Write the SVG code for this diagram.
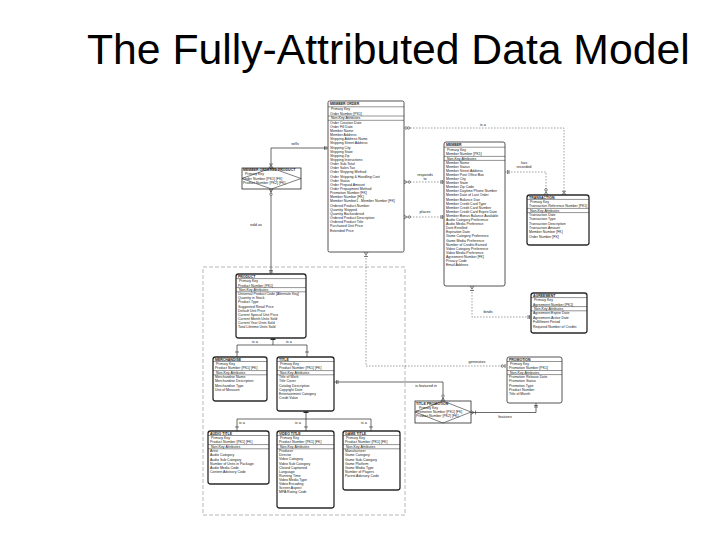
<svg xmlns="http://www.w3.org/2000/svg" width="720" height="540" viewBox="0 0 720 540">
<style>
.ttl{font-family:"Liberation Sans",Arial,sans-serif;font-size:42.7px;fill:#000}
.t{font-family:"Liberation Sans",Arial,sans-serif;font-size:3.5px;fill:#1a1a1a}
.nm{font-weight:bold}
.lb{font-family:"Liberation Sans",Arial,sans-serif;font-size:3.8px;fill:#1a1a1a;text-anchor:middle}
.bx{fill:#fff;stroke:#2a2a2a;stroke-width:0.8}
.bx2{fill:#fff;stroke:#2a2a2a;stroke-width:1.3}
.sp{stroke:#2a2a2a;stroke-width:0.5}
.dg{fill:none;stroke:#2a2a2a;stroke-width:0.6}
.dl{fill:none;stroke:#666;stroke-width:0.6;stroke-dasharray:1.6 1.4}
.grp{fill:none;stroke:#9a9a9a;stroke-width:0.7;stroke-dasharray:4 2}
.sl{fill:none;stroke:#2a2a2a;stroke-width:0.7}
.mk{fill:none;stroke:#2a2a2a;stroke-width:0.6}
.ci{fill:#fff;stroke:#2a2a2a;stroke-width:0.6}
</style>
<rect width="720" height="540" fill="#fff"/>
<text class="ttl" x="87" y="64">The Fully-Attributed Data Model</text>

<rect class="grp" x="203" y="267" width="202" height="248"/>

<g id="connectors">
  <!-- sells -->
  <path class="sl" d="M271,168 V148 H328"/>
  <path class="mk" d="M324.5,146 V150 M326,146 V150 M269,168 L271,165 L273,168 M269,164 H273"/>
  <text class="lb" x="295" y="144.5">sells</text>
  <!-- sold as -->
  <path class="sl" d="M271,189 V274"/>
  <path class="mk" d="M269,189 L271,192 L273,189 M269,270.5 H273 M269,272 H273"/>
  <circle class="ci" cx="271" cy="194.2" r="1.2"/>
  <text class="lb" x="256" y="226">sold as</text>
  <!-- responds to -->
  <path class="dl" d="M404,182 H444"/>
  <path class="mk" d="M404,180 L407,182 L404,184 M441,180 V184 M442.5,180 V184"/>
  <circle class="ci" cx="409.3" cy="182" r="1.2"/>
  <text class="lb" x="425" y="175.5">responds</text>
  <text class="lb" x="425" y="179.5">to</text>
  <!-- places -->
  <path class="dl" d="M404,217 H444"/>
  <path class="mk" d="M404,215 L407,217 L404,219 M441,215 V219 M442.5,215 V219"/>
  <circle class="ci" cx="409.3" cy="217" r="1.2"/>
  <text class="lb" x="425" y="213">places</text>
  <!-- is a (member order - transaction) -->
  <path class="dl" d="M404,128 H564 V195"/>
  <path class="mk" d="M406,126 V130 M562,195 L564,192 L566,195 M562,191.3 H566"/>
  <circle class="ci" cx="408.6" cy="128" r="1.2"/>
  <text class="lb" x="483" y="126">is a</text>
  <!-- has recorded -->
  <path class="dl" d="M505,172 H546 V195"/>
  <path class="mk" d="M507.5,170 V174 M509,170 V174 M544,195 L546,192 L548,195"/>
  <circle class="ci" cx="546" cy="189.8" r="1.3"/>
  <text class="lb" x="524" y="164">has</text>
  <text class="lb" x="524" y="168.3">recorded</text>
  <!-- binds -->
  <path class="dl" d="M472,286 V317 H531"/>
  <path class="mk" d="M470,286 L472,289 L474,286 M470,290.5 H474 M528,315 V319 M529.5,315 V319"/>
  <text class="lb" x="488" y="313">binds</text>
  <!-- generates -->
  <path class="dl" d="M366,252 V366 H507"/>
  <path class="mk" d="M364,252 L366,255 L368,252 M364,256.5 H368 M505,364 V368"/>
  <circle class="ci" cx="502.3" cy="366" r="1.2"/>
  <text class="lb" x="477" y="363">generates</text>
  <!-- is featured in -->
  <path class="sl" d="M334,382 H443 V401"/>
  <path class="mk" d="M336.5,380 V384 M338,380 V384 M441,401 L443,398 L445,401"/>
  <circle class="ci" cx="443" cy="396" r="1.2"/>
  <text class="lb" x="426" y="387">is featured in</text>
  <!-- features -->
  <path class="sl" d="M536,403 V412.5 H471"/>
  <path class="mk" d="M534,405.5 H538 M534,407 H538 M471,410.5 L474,412.5 L471,414.5 M475.5,410.5 V414.5"/>
  <text class="lb" x="505" y="418">features</text>
  <!-- product subtypes -->
  <path class="sl" d="M273,338 V345 M237,345 H307 M237,345 V357 M307,345 V357"/>
  <rect x="270.5" y="338.4" width="5" height="1.6" fill="#2a2a2a"/>
  <path class="mk" d="M235,352 H239 M305,352 H309"/>
  <text class="lb" x="255" y="343.3">is a</text>
  <text class="lb" x="289" y="343.3">is a</text>
  <!-- title subtypes -->
  <path class="sl" d="M306,411 V419 M237,419 H371 M237,419 V431 M306,419 V431 M371,419 V431"/>
  <rect x="303.5" y="411.4" width="5" height="1.6" fill="#2a2a2a"/>
  <path class="mk" d="M235,427 H239 M304,427 H308 M369,427 H373"/>
  <text class="lb" x="242" y="424">is a</text>
  <text class="lb" x="298" y="424">is a</text>
  <text class="lb" x="364" y="424">is a</text>
</g>

<g id="member-order">
  <rect class="bx" x="328" y="101" width="76" height="151" rx="1.5"/>
  <path class="sp" d="M328,106.8 H404 M328,116 H404 M328,120.3 H404"/>
  <text class="t nm" x="330" y="105.4">MEMBER ORDER</text>
  <text class="t" x="331" y="110.3">Primary Key</text>
  <text class="t" x="330" y="114.6">Order Number  [PK1]</text>
  <text class="t" x="331" y="119.4">Non-Key Attributes</text>
  <text class="t" x="330" y="123.6">
    <tspan x="330" dy="0">Order Creation Date</tspan>
    <tspan x="330" dy="4.15">Order Fill Date</tspan>
    <tspan x="330" dy="4.15">Member Name</tspan>
    <tspan x="330" dy="4.15">Member Address</tspan>
    <tspan x="330" dy="4.15">Shipping Address Name</tspan>
    <tspan x="330" dy="4.15">Shipping Street Address</tspan>
    <tspan x="330" dy="4.15">Shipping City</tspan>
    <tspan x="330" dy="4.15">Shipping State</tspan>
    <tspan x="330" dy="4.15">Shipping Zip</tspan>
    <tspan x="330" dy="4.15">Shipping Instructions</tspan>
    <tspan x="330" dy="4.15">Order Sub-Total</tspan>
    <tspan x="330" dy="4.15">Order Sales Tax</tspan>
    <tspan x="330" dy="4.15">Order Shipping Method</tspan>
    <tspan x="330" dy="4.15">Order Shipping &amp; Handling Cost</tspan>
    <tspan x="330" dy="4.15">Order Status</tspan>
    <tspan x="330" dy="4.15">Order Prepaid Amount</tspan>
    <tspan x="330" dy="4.15">Order Prepayment Method</tspan>
    <tspan x="330" dy="4.15">Promotion Number  [FK]</tspan>
    <tspan x="330" dy="4.15">Member Number  [FK]</tspan>
    <tspan x="330" dy="4.15">Member Number1 . Member Number  [FK]</tspan>
    <tspan x="330" dy="4.15">Ordered Product Number</tspan>
    <tspan x="330" dy="4.15">Quantity Shipped</tspan>
    <tspan x="330" dy="4.15">Quantity Backordered</tspan>
    <tspan x="330" dy="4.15">Ordered Product Description</tspan>
    <tspan x="330" dy="4.15">Ordered Product Title</tspan>
    <tspan x="330" dy="4.15">Purchased Unit Price</tspan>
    <tspan x="330" dy="4.15">Extended Price</tspan>
  </text>
</g>

<g id="member-ordered-product">
  <rect class="bx" x="242" y="168" width="59" height="21"/>
  <polygon class="dg" points="242,178.5 271.5,168 301,178.5 271.5,189"/>
  <text class="t nm" x="243" y="171.3">MEMBER ORDERED PRODUCT</text>
  <text class="t" x="245" y="175.3">Primary Key</text>
  <text class="t" x="243" y="179.6">Order Number  [PK1] [FK]</text>
  <text class="t" x="243" y="183.8">Product Number  [PK2] [FK]</text>
</g>

<g id="member">
  <rect class="bx" x="444" y="142" width="61" height="144" rx="2"/>
  <path class="sp" d="M444,147.2 H505 M444,156.4 H505 M444,160.4 H505"/>
  <text class="t nm" x="446" y="146">MEMBER</text>
  <text class="t" x="447" y="150.9">Primary Key</text>
  <text class="t" x="446" y="155.2">Member Number  [PK1]</text>
  <text class="t" x="447" y="159.6">Non-Key Attributes</text>
  <text class="t" x="446" y="163.6">
    <tspan x="446" dy="0">Member Name</tspan>
    <tspan x="446" dy="4.1">Member Status</tspan>
    <tspan x="446" dy="4.1">Member Street Address</tspan>
    <tspan x="446" dy="4.1">Member Post Office Box</tspan>
    <tspan x="446" dy="4.1">Member City</tspan>
    <tspan x="446" dy="4.1">Member State</tspan>
    <tspan x="446" dy="4.1">Member Zip Code</tspan>
    <tspan x="446" dy="4.1">Member Daytime Phone Number</tspan>
    <tspan x="446" dy="4.1">Member Date of Last Order</tspan>
    <tspan x="446" dy="4.1">Member Balance Due</tspan>
    <tspan x="446" dy="4.1">Member Credit Card Type</tspan>
    <tspan x="446" dy="4.1">Member Credit Card Number</tspan>
    <tspan x="446" dy="4.1">Member Credit Card Expire Date</tspan>
    <tspan x="446" dy="4.1">Member Bonus Balance Available</tspan>
    <tspan x="446" dy="4.1">Audio Category Preference</tspan>
    <tspan x="446" dy="4.1">Audio Media Preference</tspan>
    <tspan x="446" dy="4.1">Date Enrolled</tspan>
    <tspan x="446" dy="4.1">Expiration Date</tspan>
    <tspan x="446" dy="4.1">Game Category Preference</tspan>
    <tspan x="446" dy="4.1">Game Media Preference</tspan>
    <tspan x="446" dy="4.1">Number of Credits Earned</tspan>
    <tspan x="446" dy="4.1">Video Category Preference</tspan>
    <tspan x="446" dy="4.1">Video Media Preference</tspan>
    <tspan x="446" dy="4.1">Agreement Number  [FK]</tspan>
    <tspan x="446" dy="4.1">Privacy Code</tspan>
    <tspan x="446" dy="4.1">Email Address</tspan>
  </text>
</g>

<g id="transaction">
  <rect class="bx2" x="527" y="195" width="62" height="50" rx="2.5"/>
  <path class="sp" d="M527,199.4 H589 M527,208.4 H589 M527,212.6 H589"/>
  <text class="t nm" x="529" y="198.6">TRANSACTION</text>
  <text class="t" x="530" y="203">Primary Key</text>
  <text class="t" x="529" y="207.3">Transaction Reference Number  [PK1]</text>
  <text class="t" x="530" y="211.7">Non-Key Attributes</text>
  <text class="t" x="529" y="216">
    <tspan x="529" dy="0">Transaction Date</tspan>
    <tspan x="529" dy="4.3">Transaction Type</tspan>
    <tspan x="529" dy="4.3">Transaction Description</tspan>
    <tspan x="529" dy="4.3">Transaction Amount</tspan>
    <tspan x="529" dy="4.3">Member Number  [FK]</tspan>
    <tspan x="529" dy="4.3">Order Number  [FK]</tspan>
  </text>
</g>

<g id="agreement">
  <rect class="bx2" x="531" y="293" width="56" height="40" rx="2.5"/>
  <path class="sp" d="M531,297.6 H587 M531,306.6 H587 M531,310.8 H587"/>
  <text class="t nm" x="533" y="296.8">AGREEMENT</text>
  <text class="t" x="534" y="301.2">Primary Key</text>
  <text class="t" x="533" y="305.5">Agreement Number  [PK1]</text>
  <text class="t" x="534" y="309.9">Non-Key Attributes</text>
  <text class="t" x="533" y="314.3">
    <tspan x="533" dy="0">Agreement Expire Date</tspan>
    <tspan x="533" dy="4.45">Agreement Active Date</tspan>
    <tspan x="533" dy="4.45">Fulfillment Period</tspan>
    <tspan x="533" dy="4.45">Required Number of Credits</tspan>
  </text>
</g>

<g id="promotion">
  <rect class="bx" x="507" y="357" width="55" height="46" rx="2"/>
  <path class="sp" d="M507,361.5 H562 M507,370.5 H562 M507,374.6 H562"/>
  <text class="t nm" x="509" y="360.7">PROMOTION</text>
  <text class="t" x="510" y="365">Primary Key</text>
  <text class="t" x="509" y="369.4">Promotion Number  [PK1]</text>
  <text class="t" x="510" y="373.8">Non-Key Attributes</text>
  <text class="t" x="509" y="378">
    <tspan x="509" dy="0">Promotion Release Date</tspan>
    <tspan x="509" dy="4.3">Promotion Status</tspan>
    <tspan x="509" dy="4.3">Promotion Type</tspan>
    <tspan x="509" dy="4.3">Product Number</tspan>
    <tspan x="509" dy="4.3">Title of Month</tspan>
  </text>
</g>

<g id="title-promotion">
  <rect class="bx" x="415" y="401" width="56" height="22"/>
  <polygon class="dg" points="415,412 443,401 471,412 443,423"/>
  <text class="t nm" x="416" y="404.5">TITLE PROMOTION</text>
  <text class="t" x="419" y="408.5">Primary Key</text>
  <text class="t" x="416" y="412.7">Promotion Number  [PK1] [FK]</text>
  <text class="t" x="416" y="416.8">Product Number  [PK2] [FK]</text>
</g>

<g id="product">
  <rect class="bx2" x="236" y="274" width="70" height="64" rx="2.5"/>
  <path class="sp" d="M236,278.6 H306 M236,287.6 H306 M236,291.8 H306"/>
  <text class="t nm" x="238" y="277.8">PRODUCT</text>
  <text class="t" x="239" y="282.2">Primary Key</text>
  <text class="t" x="238" y="286.5">Product Number  [PK1]</text>
  <text class="t" x="239" y="290.9">Non-Key Attributes</text>
  <text class="t" x="238" y="295.2">
    <tspan x="238" dy="0">Universal Product Code [Alternate Key]</tspan>
    <tspan x="238" dy="4.1">Quantity in Stock</tspan>
    <tspan x="238" dy="4.1">Product Type</tspan>
    <tspan x="238" dy="4.1">Suggested Retail Price</tspan>
    <tspan x="238" dy="4.1">Default Unit Price</tspan>
    <tspan x="238" dy="4.1">Current Special Unit Price</tspan>
    <tspan x="238" dy="4.1">Current Month Units Sold</tspan>
    <tspan x="238" dy="4.1">Current Year Units Sold</tspan>
    <tspan x="238" dy="4.1">Total Lifetime Units Sold</tspan>
  </text>
</g>

<g id="merchandise">
  <rect class="bx2" x="213" y="357" width="54" height="44" rx="2.5"/>
  <path class="sp" d="M213,361.5 H267 M213,370.6 H267 M213,374.8 H267"/>
  <text class="t nm" x="215" y="360.7">MERCHANDISE</text>
  <text class="t" x="216" y="365.1">Primary Key</text>
  <text class="t" x="215" y="369.4">Product Number  [PK1] [FK]</text>
  <text class="t" x="216" y="373.9">Non-Key Attributes</text>
  <text class="t" x="215" y="378.2">
    <tspan x="215" dy="0">Merchandise Name</tspan>
    <tspan x="215" dy="4.25">Merchandise Description</tspan>
    <tspan x="215" dy="4.25">Merchandise Type</tspan>
    <tspan x="215" dy="4.25">Unit of Measure</tspan>
  </text>
</g>

<g id="title">
  <rect class="bx2" x="277" y="357" width="57" height="54" rx="2.5"/>
  <path class="sp" d="M277,361.5 H334 M277,370.6 H334 M277,374.8 H334"/>
  <text class="t nm" x="279" y="360.7">TITLE</text>
  <text class="t" x="280" y="365.1">Primary Key</text>
  <text class="t" x="279" y="369.4">Product Number  [PK1] [FK]</text>
  <text class="t" x="280" y="373.9">Non-Key Attributes</text>
  <text class="t" x="279" y="378.2">
    <tspan x="279" dy="0">Title of Work</tspan>
    <tspan x="279" dy="4.2">Title Cover</tspan>
    <tspan x="279" dy="4.2">Catalog Description</tspan>
    <tspan x="279" dy="4.2">Copyright Date</tspan>
    <tspan x="279" dy="4.2">Entertainment Category</tspan>
    <tspan x="279" dy="4.2">Credit Value</tspan>
  </text>
</g>

<g id="audio-title">
  <rect class="bx2" x="208" y="431" width="61" height="53" rx="2.5"/>
  <path class="sp" d="M208,435.5 H269 M208,444.6 H269 M208,448.8 H269"/>
  <text class="t nm" x="210" y="434.7">AUDIO TITLE</text>
  <text class="t" x="211" y="439.1">Primary Key</text>
  <text class="t" x="210" y="443.4">Product Number  [PK1] [FK]</text>
  <text class="t" x="211" y="447.9">Non-Key Attributes</text>
  <text class="t" x="210" y="452.2">
    <tspan x="210" dy="0">Artist</tspan>
    <tspan x="210" dy="4.2">Audio Category</tspan>
    <tspan x="210" dy="4.2">Audio Sub Category</tspan>
    <tspan x="210" dy="4.2">Number of Units in Package</tspan>
    <tspan x="210" dy="4.2">Audio Media Code</tspan>
    <tspan x="210" dy="4.2">Content Advisory Code</tspan>
  </text>
</g>

<g id="video-title">
  <rect class="bx2" x="277" y="431" width="57" height="77" rx="2.5"/>
  <path class="sp" d="M277,435.5 H334 M277,444.6 H334 M277,448.8 H334"/>
  <text class="t nm" x="279" y="434.7">VIDEO TITLE</text>
  <text class="t" x="280" y="439.1">Primary Key</text>
  <text class="t" x="279" y="443.4">Product Number  [PK1] [FK]</text>
  <text class="t" x="280" y="447.9">Non-Key Attributes</text>
  <text class="t" x="279" y="452.2">
    <tspan x="279" dy="0">Producer</tspan>
    <tspan x="279" dy="4.1">Director</tspan>
    <tspan x="279" dy="4.1">Video Category</tspan>
    <tspan x="279" dy="4.1">Video Sub Category</tspan>
    <tspan x="279" dy="4.1">Closed Captioned</tspan>
    <tspan x="279" dy="4.1">Language</tspan>
    <tspan x="279" dy="4.1">Running Time</tspan>
    <tspan x="279" dy="4.1">Video Media Type</tspan>
    <tspan x="279" dy="4.1">Video Encoding</tspan>
    <tspan x="279" dy="4.1">Screen Aspect</tspan>
    <tspan x="279" dy="4.1">MPA Rating Code</tspan>
  </text>
</g>

<g id="game-title">
  <rect class="bx2" x="343" y="431" width="57" height="59" rx="2.5"/>
  <path class="sp" d="M343,435.5 H400 M343,444.6 H400 M343,448.8 H400"/>
  <text class="t nm" x="345" y="434.7">GAME TITLE</text>
  <text class="t" x="346" y="439.1">Primary Key</text>
  <text class="t" x="345" y="443.4">Product Number  [PK1] [FK]</text>
  <text class="t" x="346" y="447.9">Non-Key Attributes</text>
  <text class="t" x="345" y="452.2">
    <tspan x="345" dy="0">Manufacturer</tspan>
    <tspan x="345" dy="4.2">Game Category</tspan>
    <tspan x="345" dy="4.2">Game Sub-Category</tspan>
    <tspan x="345" dy="4.2">Game Platform</tspan>
    <tspan x="345" dy="4.2">Game Media Type</tspan>
    <tspan x="345" dy="4.2">Number of Players</tspan>
    <tspan x="345" dy="4.2">Parent Advisory Code</tspan>
  </text>
</g>
</svg>
